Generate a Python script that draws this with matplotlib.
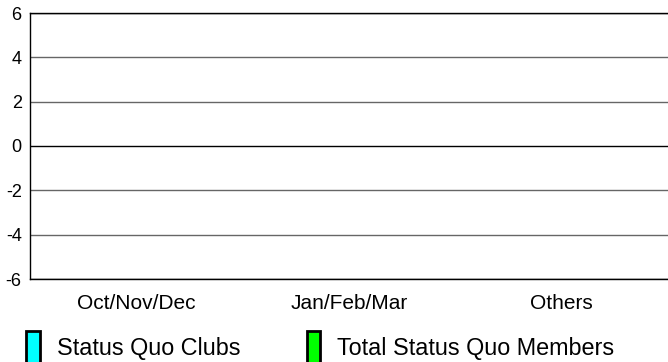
import numpy as np
import matplotlib
matplotlib.use("Agg")
import matplotlib.pyplot as plt
from matplotlib.patches import Patch

categories = ["Oct/Nov/Dec", "Jan/Feb/Mar", "Others"]
clubs = [0, 0, 0]
members = [0, 0, 0]
yticks = [-6, -4, -2, 0, 2, 4, 6]

plt.rcParams["font.family"] = ["Liberation Sans", "DejaVu Sans"]

fig = plt.figure(figsize=(6.68, 3.62), dpi=100)
ax = fig.add_axes([30 / 668, 1 - 279 / 362, 638 / 668, 266 / 362])

x = np.arange(len(categories))
w = 0.3
ax.bar(x - w / 2, clubs, w, color="#00ffff", linewidth=0)
ax.bar(x + w / 2, members, w, color="#00ff00", linewidth=0)

ax.set_xlim(-0.5, len(categories) - 0.5)
ax.set_ylim(-6, 6)
ax.set_yticks(yticks)
ax.set_yticklabels([str(t) for t in yticks], fontsize=13)
ax.set_xticks(x)
ax.set_xticklabels(categories, fontsize=15)
ax.tick_params(axis="y", length=0, pad=6)
ax.tick_params(axis="x", length=0, pad=11)

# lignes horizontales : noires en haut, en bas et à zéro
for t in yticks:
    col = "black" if t in (0, 6, -6) else "#666666"
    ax.axhline(t, color=col, linewidth=1, zorder=0)

ax.spines["right"].set_visible(False)
for s in ["left", "top", "bottom"]:
    ax.spines[s].set_linewidth(1)

handles = [Patch(facecolor="#00ffff", edgecolor="black", linewidth=2),
           Patch(facecolor="#00ff00", edgecolor="black", linewidth=2)]
fig.legend(handles, ["Status Quo Clubs", "Total Status Quo Members"], ncol=2,
           loc="lower left", bbox_to_anchor=(17 / 668, -0.03), frameon=False,
           fontsize=16.8, handlelength=0.58, handleheight=1.8, handletextpad=0.73,
           columnspacing=2.85, borderaxespad=0)

fig.savefig("out.png", dpi=100)
